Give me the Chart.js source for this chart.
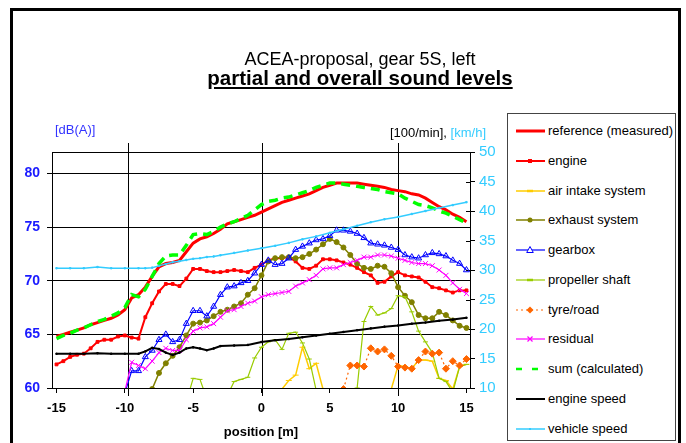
<!DOCTYPE html>
<html>
<head>
<meta charset="utf-8">
<script src="https://cdn.jsdelivr.net/npm/chart.js@4.4.1/dist/chart.umd.min.js"></script>
<style>
  html, body { margin: 0; padding: 0; background: #fff; overflow: hidden; }
  body { width: 686px; height: 443px; position: relative; font-family: 'Liberation Sans', Arial, sans-serif; }
  #frame { position: absolute; left: 10px; top: 8px; width: 665px; height: 470px; border: 3px solid #000; }
  #chart { position: absolute; left: 0; top: 0; }
  .txt { position: absolute; white-space: nowrap; line-height: 1; }
  #title1 { left: 0; width: 720px; top: 50px; text-align: center; font-size: 18px; }
  #title2 { left: 0; width: 720px; top: 68px; text-align: center; font-size: 20.5px; font-weight: bold; text-decoration: underline; }
  #unitLeft { left: 55px; top: 123px; font-size: 13px; color: #3333ff; }
  #unitRight { right: 200px; top: 126px; font-size: 13px; color: #000; }
  #unitRight span { color: #33ccff; }
  #legend { position: absolute; left: 507px; top: 113px; width: 167px; height: 326px; border: 1px solid #444; background: #fff; }
  .entry { position: absolute; left: 8px; height: 14px; font-size: 13px; line-height: 14px; white-space: nowrap; }
  .entry svg { position: absolute; left: 0; top: 1px; }
  .entry span { position: absolute; left: 32px; top: 0; }
</style>
</head>
<body>
<div id="frame"></div>
<canvas id="chart" width="686" height="443"></canvas>
<div class="txt" id="title1">ACEA-proposal, gear 5S, left</div>
<div class="txt" id="title2">partial and overall sound levels</div>
<div class="txt" id="unitLeft">[dB(A)]</div>
<div class="txt" id="unitRight">[100/min], <span>[km/h]</span></div>
<div id="legend"></div>
<script>
// measuring positions [m]
const positions = [
  -15, -14.5, -14, -13.5, -13, -12.5, -12, -11.5, -11, -10.5,
  -10, -9.5, -9, -8.5, -8, -7.5, -7, -6.5, -6, -5.5,
  -5, -4.5, -4, -3.5, -3, -2.5, -2, -1.5, -1, -0.5,
  0, 0.5, 1, 1.5, 2, 2.5, 3, 3.5, 4, 4.5,
  5, 5.5, 6, 6.5, 7, 7.5, 8, 8.5, 9, 9.5,
  10, 10.5, 11, 11.5, 12, 12.5, 13, 13.5, 14, 14.5, 15];

// sound levels [dB(A)]
const referenceMeasured = [
  64.8, 65.0, 65.2, 65.4, 65.6, 65.9, 66.1, 66.3, 66.5, 66.8,
  67.3, 68.4, 68.7, 69.4, 70.4, 71.3, 71.6, 71.7, 71.9, 72.7,
  73.5, 73.9, 74.1, 74.4, 74.8, 75.3, 75.5, 75.7, 75.9, 76.1,
  76.4, 76.7, 77.0, 77.3, 77.5, 77.7, 77.9, 78.1, 78.4, 78.7,
  78.9, 79.1, 79.1, 79.1, 79.1, 79.0, 78.9, 78.8, 78.7, 78.5,
  78.4, 78.3, 78.1, 78.0, 77.7, 77.3, 76.9, 76.6, 76.2, 75.9, 75.5];

const engine = [
  62.2, 62.5, 62.9, 63.1, 63.2, 63.7, 64.3, 64.5, 64.5, 64.8,
  64.9, 64.7, 64.6, 66.6, 67.9, 69.0, 69.7, 69.7, 69.5, 70.2,
  71.1, 71.1, 70.9, 70.8, 70.8, 70.9, 71.0, 70.9, 70.8, 71.2,
  71.5, 71.9, 72.1, 72.1, 72.2, 71.8, 71.2, 71.1, 71.4, 72.0,
  72.0, 71.9, 71.7, 71.5, 71.2, 70.8, 70.5, 69.8, 69.9, 70.4,
  70.8, 70.5, 70.4, 70.3, 69.9, 69.4, 69.3, 69.1, 68.9, 69.1, 69.1];

const airIntake = [
  null, null, null, null, null, null, null, null, null, null,
  null, null, null, null, null, null, null, null, null, null,
  null, null, null, null, null, null, null, null, null, null,
  null, null, null, 59.9, 60.7, 61.2, 63.8, 61.8, 62.3, 59.9,
  null, null, null, null, null, null, null, null, null, 59.9,
  62.1, 62.0, 61.8, 62.6, 62.6, 62.5, 60.9, 60.7, 59.9, 62.0, 62.2];

const exhaust = [
  null, null, null, null, null, null, null, null, null, null,
  null, null, null, null, 59.9, 61.4, 62.3, 63.0, 63.8, 64.9,
  66.0, 66.1, 66.3, 66.7, 67.1, 67.3, 67.6, 67.9, 68.7, 69.3,
  70.5, 71.8, 72.1, 72.2, 72.2, 72.1, 72.2, 72.5, 72.9, 73.4,
  73.9, 73.6, 73.1, 72.4, 71.6, 71.2, 71.1, 71.4, 71.3, 70.7,
  69.4, 68.6, 68.0, 66.8, 66.5, 66.5, 67.1, 66.8, 66.3, 65.8, 65.6];

const gearbox = [
  null, null, null, null, null, null, null, null, null, null,
  59.5, 61.6, 61.6, 62.9, 63.5, 64.5, 65.0, 64.3, 64.5, 66.0,
  67.2, 67.2, 66.7, 67.6, 68.7, 69.4, 69.5, 69.8, 70.0, 70.7,
  71.5, 71.9, 71.5, 71.6, 72.1, 72.9, 73.2, 73.5, 73.8, 73.9,
  74.2, 74.7, 74.7, 74.6, 74.4, 74.0, 73.5, 73.4, 73.3, 73.1,
  72.9, 72.4, 72.2, 72.1, 72.4, 72.6, 72.5, 72.3, 71.9, 71.6, 71.0];

const propellerShaft = [
  null, null, null, null, null, null, null, null, null, null,
  null, null, null, null, null, null, null, null, null, 58.7,
  60.9, 60.8, 59.0, null, null, 59.3, 60.6, 60.8, 61.0, 62.8,
  63.8, 64.3, 64.5, 63.6, 65.1, 65.2, 64.2, 62.7, 59.8, null,
  null, null, null, null, 60.0, 66.2, 67.6, 66.8, 67.0, 67.4,
  68.6, 68.5, 67.1, 65.3, 64.3, 63.3, 60.9, 60.6, 59.6, 62.0, 62.2];

const tyreRoad = [
  null, null, null, null, null, null, null, null, null, null,
  null, null, null, null, null, null, null, null, null, null,
  null, null, null, null, null, null, null, null, null, null,
  null, null, null, null, null, null, null, null, null, null,
  null, null, 59.9, 62.1, 62.1, 62.0, 63.7, 63.4, 63.6, 63.0,
  62.0, 61.9, 61.8, 62.6, 63.4, 63.2, 63.3, 61.8, 62.5, 62.1, 62.7];

const residual = [
  null, null, null, null, null, null, null, null, null, null,
  59.7, 62.4, 62.1, 61.8, 62.5, 63.3, 63.7, 63.5, 63.5, 64.5,
  65.3, 65.6, 65.7, 66.0, 66.6, 67.2, 67.3, 67.6, 67.9, 68.1,
  68.5, 68.7, 68.8, 68.9, 69.0, 69.5, 69.8, 70.1, 70.5, 71.1,
  71.2, 71.2, 71.5, 71.7, 71.9, 72.2, 72.2, 72.4, 72.4, 72.3,
  72.1, 71.9, 71.7, 71.6, 71.6, 71.4, 71.0, 70.5, 69.8, 69.2, 68.8];

const sumCalculated = [
  64.6, 64.9, 65.1, 65.4, 65.6, 65.9, 66.2, 66.4, 66.7, 67.0,
  67.5, 68.7, 68.5, 69.2, 70.4, 71.6, 72.3, 72.4, 72.4, 73.3,
  74.3, 74.4, 74.3, 74.6, 75.0, 75.3, 75.5, 75.8, 76.1, 76.6,
  77.1, 77.4, 77.5, 77.7, 77.8, 78.0, 78.2, 78.4, 78.7, 78.9,
  79.1, 79.1, 79.0, 78.9, 78.8, 78.7, 78.6, 78.5, 78.3, 78.2,
  78.1, 77.7, 77.4, 77.1, 77.0, 76.8, 76.5, 76.3, 76.0, 75.7, 75.4];

// speeds: engine [100/min], vehicle [km/h]
const speedPositions = [
  -15, -14, -13, -12, -11, -10, -9, -8.5, -8, -7.5, -7, -6.5, -6, -5.5, -5, -4.5, -4, -3.5, -3,
  -2, -1, 0, 1, 2, 3, 4, 5, 6, 7, 8, 9, 10, 11, 12, 13, 14, 15];
const engineSpeed = [
  15.8, 15.8, 15.8, 15.9, 15.8, 15.8, 15.8, 16.2, 16.8, 16.6, 16.0, 15.6, 16.0, 16.7, 16.9, 16.7, 16.4, 16.7, 17.1,
  17.2, 17.3, 17.8, 18.1, 18.3, 18.6, 18.9, 19.2, 19.5, 19.8, 20.1, 20.4, 20.6, 20.9, 21.1, 21.4, 21.6, 21.9];
const vehicleSpeed = [
  30.3, 30.3, 30.3, 30.5, 30.3, 30.3, 30.3, 30.3, 30.4, 30.7, 31.0, 31.3, 31.5, 31.7, 31.9, 32.0, 32.2, 32.3, 32.5,
  32.9, 33.3, 33.7, 34.1, 34.6, 35.2, 35.7, 36.3, 36.9, 37.5, 38.1, 38.6, 39.0, 39.5, 40.0, 40.5, 41.0, 41.5];

// axes
const positionTicks = [-15, -10, -5, 0, 5, 10, 15];
const levelTicks = [60, 65, 70, 75, 80];
const speedTicks = [10, 15, 20, 25, 30, 35, 40, 45, 50];
const markerLines = [-9.77, 0.07, 10];

((document, Chart) => {
  const FONT = "'Liberation Sans', Arial, sans-serif";

  const toPoints = (xs, ys) => xs.map((x, i) => ({ x, y: ys[i] }));

  const series = [
    { label: 'reference (measured)', data: toPoints(positions, referenceMeasured), color: '#ff0000', width: 3, style: false },
    { label: 'engine', data: toPoints(positions, engine), color: '#ff0000', width: 2, style: 'rect', radius: 2 },
    { label: 'air intake system', data: toPoints(positions, airIntake), color: '#ffcc00', width: 1.5, style: 'line', radius: 3 },
    { label: 'exhaust system', data: toPoints(positions, exhaust), color: '#808000', width: 1.5, style: 'circle', radius: 2.5 },
    { label: 'gearbox', data: toPoints(positions, gearbox), color: '#0000ff', width: 1.2, style: 'triangle', radius: 3.5, hollow: true },
    { label: 'propeller shaft', data: toPoints(positions, propellerShaft), color: '#99cc00', width: 1.2, style: 'line', radius: 2.5 },
    { label: 'tyre/road', data: toPoints(positions, tyreRoad), color: '#ff6600', width: 1.2, style: 'rectRot', radius: 3.5, dash: [2, 3] },
    { label: 'residual', data: toPoints(positions, residual), color: '#ff00ff', width: 1.2, style: 'crossRot', radius: 3.5 },
    { label: 'sum (calculated)', data: toPoints(positions, sumCalculated), color: '#00ff00', width: 3.5, style: false, dash: [9, 6] },
    { label: 'engine speed', data: toPoints(speedPositions, engineSpeed), color: '#000000', width: 2, style: 'rect', radius: 1, axis: 'ySpeed' },
    { label: 'vehicle speed', data: toPoints(speedPositions, vehicleSpeed), color: '#33ccff', width: 1.5, style: 'rect', radius: 1, axis: 'ySpeed' },
  ];

  const datasets = series.map((s, i) => ({
    label: s.label,
    data: s.data,
    yAxisID: s.axis || 'yLevel',
    borderColor: s.color,
    backgroundColor: s.color,
    borderWidth: s.width,
    borderDash: s.dash || [],
    pointStyle: s.style,
    pointRadius: s.style ? s.radius : 0,
    pointBorderColor: s.color,
    pointBackgroundColor: s.hollow ? 'rgba(255,255,255,0)' : s.color,
    pointBorderWidth: 1,
    tension: 0,
    spanGaps: false,
    order: series.length - i,
  }));

  const framePlugin = {
    id: 'frame',
    beforeDatasetsDraw(chart) {
      const { ctx, chartArea: a, scales } = chart;
      const line = (x1, y1, x2, y2) => {
        ctx.beginPath();
        ctx.moveTo(x1, y1);
        ctx.lineTo(x2, y2);
        ctx.stroke();
      };
      ctx.save();
      ctx.strokeStyle = '#000';
      ctx.lineWidth = 1;
      line(a.left, Math.round(a.top) + 0.5, a.right, Math.round(a.top) + 0.5);
      markerLines.forEach((v) => {
        const px = Math.round(scales.x.getPixelForValue(v)) + 0.5;
        line(px, a.top - 9, px, a.bottom + 8);
      });
      scales.ySpeed.ticks.forEach((t) => {
        const py = Math.round(scales.ySpeed.getPixelForValue(t.value)) + 0.5;
        line(a.right - 4, py, a.right, py);
      });
      ctx.restore();
    },
  };

  const setTicks = (values) => (scale) => {
    scale.ticks = values.map((value) => ({ value }));
  };

  const initChart = () => {
    new Chart(document.getElementById('chart'), {
      type: 'line',
      data: { datasets },
      options: {
        responsive: false,
        animation: false,
        events: [],
        layout: { padding: { left: 0, right: 176, top: 152, bottom: 0 } },
        plugins: { legend: { display: false }, tooltip: { enabled: false }, title: { display: false } },
        scales: {
          x: {
            type: 'linear',
            min: -15.33,
            max: 15.26,
            afterBuildTicks: setTicks(positionTicks),
            afterFit: (s) => { s.height = 55; },
            grid: { drawOnChartArea: false, color: '#000', tickLength: 5 },
            border: { color: '#000', width: 1 },
            ticks: { color: '#000', autoSkip: false, maxRotation: 0, padding: 8, font: { family: FONT, size: 13, weight: 'bold' } },
            title: { display: true, text: 'position [m]', color: '#000', padding: { top: 0, bottom: 3 }, font: { family: FONT, size: 13, weight: 'bold' } },
          },
          yLevel: {
            position: 'left',
            min: 60,
            max: 82,
            afterBuildTicks: setTicks(levelTicks),
            afterFit: (s) => { s.width = 52; },
            grid: { color: '#000', lineWidth: 1, tickLength: 5 },
            border: { color: '#000', width: 1 },
            ticks: { color: '#1a1aff', padding: 7, font: { family: FONT, size: 14, weight: 'bold' } },
          },
          ySpeed: {
            position: 'right',
            min: 10,
            max: 50,
            afterBuildTicks: setTicks(speedTicks),
            afterFit: (s) => { s.width = 40; },
            grid: { drawOnChartArea: false, color: '#000', tickLength: 5 },
            border: { color: '#000', width: 1 },
            ticks: { color: '#33ccff', padding: 4, font: { family: FONT, size: 15 } },
          },
        },
      },
      plugins: [framePlugin],
    });
  };

  const markerSvg = (s) => {
    const c = s.color;
    switch (s.style) {
      case 'rect': return s.radius > 1 ? `<rect x="12" y="4" width="4" height="4" fill="${c}"/>` : `<rect x="13" y="5" width="2" height="2" fill="${c}"/>`;
      case 'line': return `<line x1="11" y1="6" x2="17" y2="6" stroke="${c}" stroke-width="2.5"/>`;
      case 'circle': return `<circle cx="14" cy="6" r="2.5" fill="${c}"/>`;
      case 'triangle': return `<polygon points="14,2.5 17.3,8.5 10.7,8.5" fill="#fff" stroke="${c}" stroke-width="1"/>`;
      case 'rectRot': return `<polygon points="14,2.5 17.5,6 14,9.5 10.5,6" fill="${c}"/>`;
      case 'crossRot': return `<path d="M11.5,3.5 L16.5,8.5 M16.5,3.5 L11.5,8.5" stroke="${c}" stroke-width="1.2"/>`;
      default: return '';
    }
  };

  const initLegend = () => {
    const legend = document.getElementById('legend');
    series.forEach((s, i) => {
      const entry = document.createElement('div');
      entry.className = 'entry';
      entry.style.top = `${10 + i * 29.75}px`;
      const dash = s.dash ? `stroke-dasharray="${s.dash[0] === 9 ? '6,10' : '2,3'}"` : '';
      const width = s.style === false && !s.dash ? 3 : Math.min(s.width, 2.5);
      entry.innerHTML = `<svg width="30" height="12"><line x1="0" y1="6" x2="29" y2="6" stroke="${s.color}" stroke-width="${width}" ${dash}/>${markerSvg(s)}</svg><span>${s.label}</span>`;
      legend.appendChild(entry);
    });
  };

  initChart();
  initLegend();
})(document, Chart);
</script>
</body>
</html>
